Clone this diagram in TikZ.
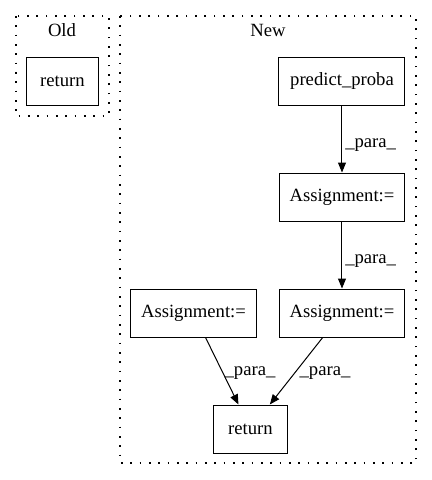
\documentclass[tikz,border=0pt]{standalone}
\usepackage{fontspec}
\setmainfont{Liberation Serif}
\usetikzlibrary{arrows.meta}
\begin{document}
\begin{tikzpicture}[x=0.75pt,y=-0.75pt,
  box/.style={draw, line width=0.75pt, inner sep=0pt, minimum height=36pt, font=\fontsize{14}{16}\selectfont},
  cluster/.style={draw, line width=1pt, dash pattern=on 1.2pt off 5.8pt},
  ctitle/.style={inner sep=0pt, font=\fontsize{14}{16}\selectfont},
  lbl/.style={inner sep=0pt, font=\fontsize{14}{16}\selectfont},
  edge/.style={-{Triangle[length=7.5pt,width=6pt]}, line width=0.75pt}]
\useasboundingbox (0,0) rectangle (432,480);
% clusters
\draw[cluster] (16,16) rectangle (109,116);
\node[ctitle] (oldt) at (62,30) {Old};
\draw[cluster] (120,16) rectangle (416,463);
\node[ctitle] (newt) at (268,30) {New};
% nodes
\node[box, minimum width=53.5pt] (oret) at (62.5,81) {return};
\node[box, minimum width=94.5pt] (pp) at (342,81) {predict\_proba};
\node[box, minimum width=94pt] (a1) at (342,197) {Assignment:=};
\node[box, minimum width=94pt] (a2) at (342,313) {Assignment:=};
\node[box, minimum width=94pt] (al) at (193.5,313) {Assignment:=};
\node[box, minimum width=55pt] (ret) at (250.5,429) {return};
% edges
\draw[edge] (pp) -- (a1);
\draw[edge] (a1) -- (a2);
\draw[edge] (al) -- (ret);
\draw[edge] (a2) -- (ret);
% labels
\node[lbl, anchor=west] (l1) at (345,145) {\_para\_};
\node[lbl, anchor=west] (l2) at (345,261) {\_para\_};
\node[lbl] (l3) at (250,373) {\_para\_};
\node[lbl] (l4) at (325,373) {\_para\_};
\end{tikzpicture}
\end{document}
